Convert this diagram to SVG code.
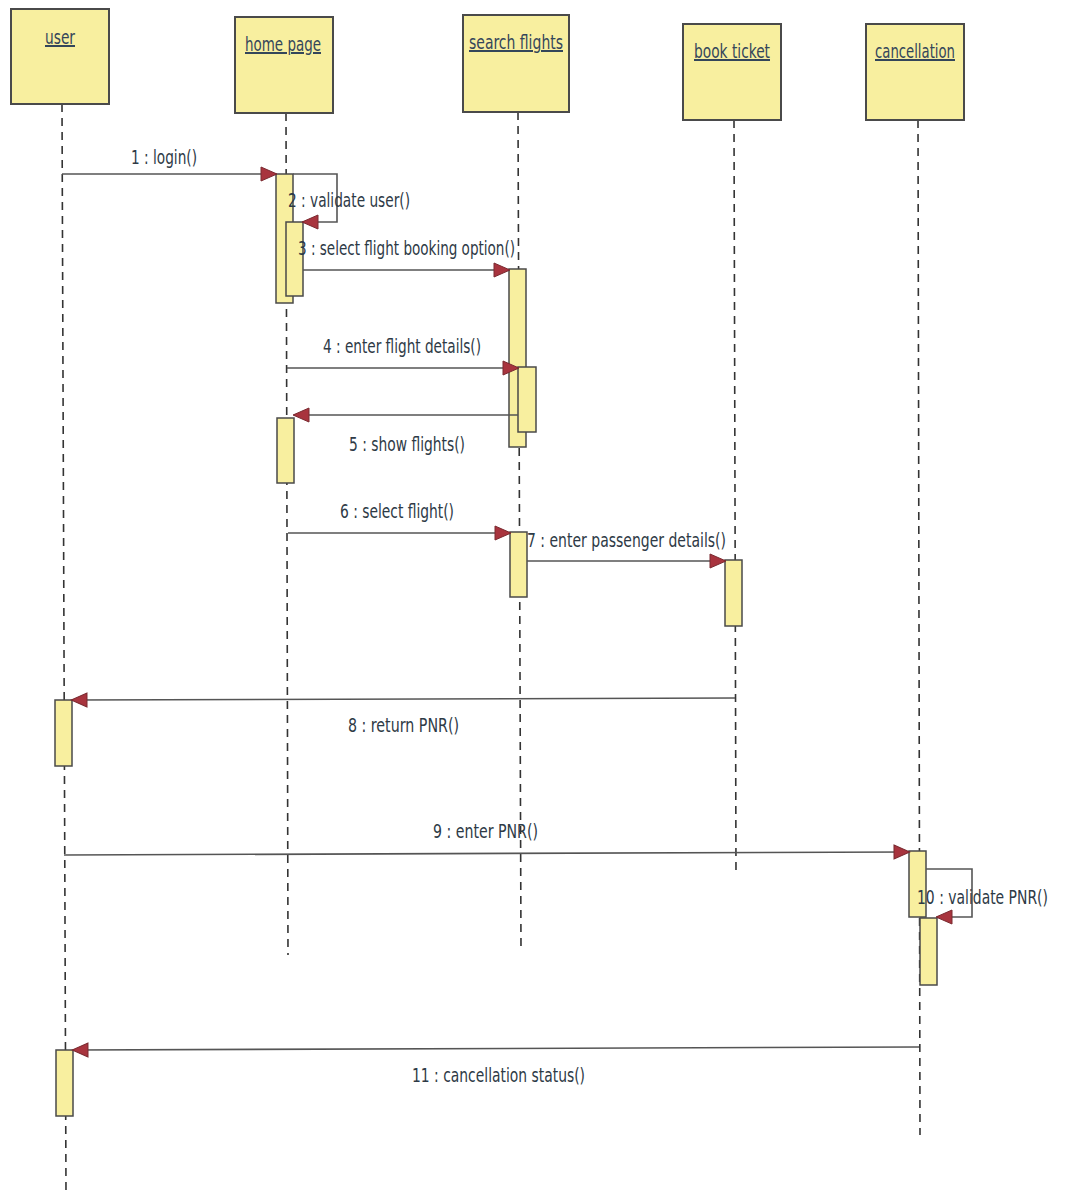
<svg xmlns="http://www.w3.org/2000/svg" width="1068" height="1193" viewBox="0 0 1068 1193">
<defs>
<style>
.box{fill:#f8ef9f;stroke:#4a4a4a;stroke-width:2}
.act{fill:#f8ef9f;stroke:#4a4a4a;stroke-width:1.5}
.life{stroke:#333;stroke-width:1.6;stroke-dasharray:8 6;fill:none}
.msg{stroke:#555;stroke-width:1.6;fill:none}
.name{font-family:"DejaVu Sans Condensed","Liberation Sans",sans-serif;font-size:20px;fill:#34465a;text-decoration:underline}
.lbl{font-family:"DejaVu Sans Condensed","Liberation Sans",sans-serif;font-size:20px;fill:#2e3a46}
</style>
<marker id="ah" markerWidth="18" markerHeight="16" refX="16" refY="8" orient="auto" markerUnits="userSpaceOnUse">
<path d="M1,1 L17,8 L1,15 Z" fill="#a8343e" stroke="#7a2a30" stroke-width="1"/>
</marker>
</defs>
<rect width="1068" height="1193" fill="#ffffff"/>

<g id="lifelines">
<line class="life" x1="62" y1="104" x2="66" y2="1193"/>
<line class="life" x1="286" y1="113" x2="288" y2="955"/>
<line class="life" x1="518" y1="112" x2="521" y2="950"/>
<line class="life" x1="734" y1="120" x2="736" y2="875"/>
<line class="life" x1="918" y1="120" x2="920" y2="1135"/>
</g>

<g id="node-user"><rect class="box" x="11" y="9" width="98" height="95"/><text class="name" x="60" y="44" text-anchor="middle" textLength="30" lengthAdjust="spacingAndGlyphs">user</text></g>
<g id="node-home"><rect class="box" x="235" y="17" width="98" height="96"/><text class="name" x="283" y="51" text-anchor="middle" textLength="76" lengthAdjust="spacingAndGlyphs">home page</text></g>
<g id="node-search"><rect class="box" x="463" y="15" width="106" height="97"/><text class="name" x="516" y="49" text-anchor="middle" textLength="94" lengthAdjust="spacingAndGlyphs">search flights</text></g>
<g id="node-book"><rect class="box" x="683" y="24" width="98" height="96"/><text class="name" x="732" y="58" text-anchor="middle" textLength="76" lengthAdjust="spacingAndGlyphs">book ticket</text></g>
<g id="node-cancel"><rect class="box" x="866" y="24" width="98" height="96"/><text class="name" x="915" y="58" text-anchor="middle" textLength="80" lengthAdjust="spacingAndGlyphs">cancellation</text></g>

<g id="activations">
<rect class="act" x="276" y="174" width="17" height="129"/>
<rect class="act" x="286" y="222" width="17" height="74"/>
<rect class="act" x="509" y="269" width="17" height="178"/>
<rect class="act" x="518" y="367" width="18" height="65"/>
<rect class="act" x="277" y="418" width="17" height="65"/>
<rect class="act" x="510" y="532" width="17" height="65"/>
<rect class="act" x="725" y="560" width="17" height="66"/>
<rect class="act" x="55" y="700" width="17" height="66"/>
<rect class="act" x="909" y="851" width="17" height="66"/>
<rect class="act" x="920" y="918" width="17" height="67"/>
<rect class="act" x="56" y="1050" width="17" height="66"/>
</g>

<g id="connectors">
<line class="msg" x1="62" y1="174" x2="276" y2="174" marker-end="url(#ah)"/>
<polyline class="msg" points="293,174 337,174 337,222 303,222" marker-end="url(#ah)"/>
<line class="msg" x1="303" y1="270" x2="509" y2="270" marker-end="url(#ah)"/>
<line class="msg" x1="287" y1="368" x2="518" y2="368" marker-end="url(#ah)"/>
<line class="msg" x1="518" y1="415" x2="294" y2="415" marker-end="url(#ah)"/>
<line class="msg" x1="288" y1="533" x2="510" y2="533" marker-end="url(#ah)"/>
<line class="msg" x1="527" y1="561" x2="725" y2="561" marker-end="url(#ah)"/>
<line class="msg" x1="735" y1="698" x2="72" y2="700" marker-end="url(#ah)"/>
<line class="msg" x1="64" y1="855" x2="909" y2="852" marker-end="url(#ah)"/>
<polyline class="msg" points="926,869 972,869 972,917 937,917" marker-end="url(#ah)"/>
<line class="msg" x1="919" y1="1047" x2="73" y2="1050" marker-end="url(#ah)"/>
</g>

<g id="labels">
<text class="lbl" x="131" y="164" textLength="66" lengthAdjust="spacingAndGlyphs">1 : login()</text>
<text class="lbl" x="288" y="207" textLength="122" lengthAdjust="spacingAndGlyphs">2 : validate user()</text>
<text class="lbl" x="298" y="255" textLength="217" lengthAdjust="spacingAndGlyphs">3 : select flight booking option()</text>
<text class="lbl" x="323" y="353" textLength="158" lengthAdjust="spacingAndGlyphs">4 : enter flight details()</text>
<text class="lbl" x="349" y="451" textLength="116" lengthAdjust="spacingAndGlyphs">5 : show flights()</text>
<text class="lbl" x="340" y="518" textLength="114" lengthAdjust="spacingAndGlyphs">6 : select flight()</text>
<text class="lbl" x="527" y="547" textLength="199" lengthAdjust="spacingAndGlyphs">7 : enter passenger details()</text>
<text class="lbl" x="348" y="732" textLength="111" lengthAdjust="spacingAndGlyphs">8 : return PNR()</text>
<text class="lbl" x="433" y="838" textLength="105" lengthAdjust="spacingAndGlyphs">9 : enter PNR()</text>
<text class="lbl" x="917" y="904" textLength="131" lengthAdjust="spacingAndGlyphs">10 : validate PNR()</text>
<text class="lbl" x="412" y="1082" textLength="173" lengthAdjust="spacingAndGlyphs">11 : cancellation status()</text>
</g>
</svg>
